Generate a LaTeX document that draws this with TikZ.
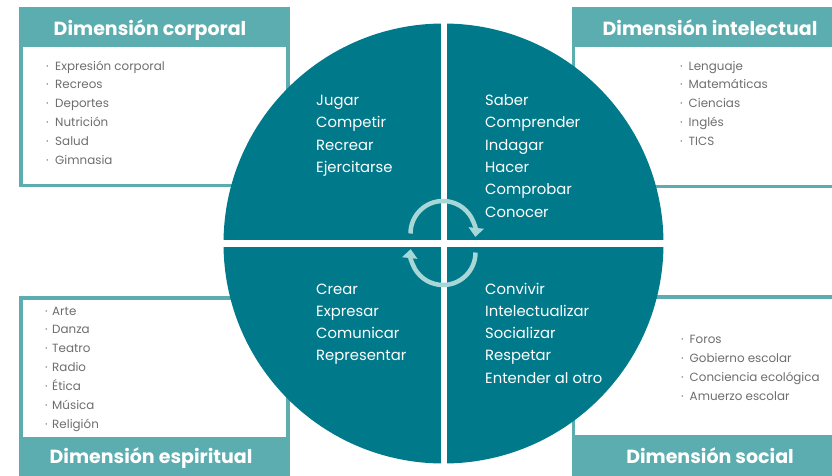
\documentclass[tikz,border=0pt]{standalone}
\usepackage{fontspec}
\setmainfont{Poppins}
\usetikzlibrary{arrows.meta}

\definecolor{darkteal}{HTML}{00798A}
\definecolor{lightteal}{HTML}{5BADB0}
\definecolor{arrowteal}{HTML}{A8D7D8}
\definecolor{itemgray}{HTML}{6E6E6E}

\begin{document}
\begin{tikzpicture}[x=1pt,y=-1pt,
	frame/.style={draw=lightteal,line width=3.5pt,fill=white},
	title/.style={anchor=base,inner sep=0pt,text=white,font=\fontsize{19}{22}\selectfont\bfseries},
	item/.style={anchor=base west,inner sep=0pt,text=itemgray,font=\fontsize{11.9}{14}\selectfont},
	verb/.style={anchor=base west,inner sep=0pt,text=white,font=\fontsize{14.8}{18}\selectfont},
	cycle/.style={arrowteal,line width=4.5pt,-{Triangle[width=15pt,length=9pt]}}]

		\useasboundingbox (0,0) rectangle (832,475);

		% the four boxes
		\draw[frame] (20.8,9) rectangle (288.2,185.5);
		\fill[lightteal] (19,7) rectangle (290,47);
		\draw[frame] (573.5,9) rectangle (840,186.5);
		\fill[lightteal] (571.7,7) rectangle (840,47);
		\draw[frame] (20.8,298) rectangle (288.2,480);
		\fill[lightteal] (19,436.5) rectangle (290,480);
		\draw[frame] (573.5,297) rectangle (840,480);
		\fill[lightteal] (571.7,434.5) rectangle (840,480);

		\node[title] (corporal) at (150,35) {Dimensión corporal};
		\node[title] (intelectual) at (710,35) {Dimensión intelectual};
		\node[title] (espiritual) at (151,463) {Dimensión espiritual};
		\node[title] (social) at (710,463) {Dimensión social};

		% lists
		\foreach \w [count=\i from 0] in {Expresión corporal,Recreos,Deportes,Nutrición,Salud,Gimnasia}
			\node[item] (cor\i) at (46,70+18.8*\i) {·\hspace{6.5pt}\w};
		\foreach \w [count=\i from 0] in {Lenguaje,Matemáticas,Ciencias,Inglés,TICS}
			\node[item] (int\i) at (680,70+18.8*\i) {·\hspace{6pt}\w};
		\foreach \w [count=\i from 0] in {Arte,Danza,Teatro,Radio,Ética,Música,Religión}
			\node[item] (esp\i) at (45,315+18.9*\i) {·\hspace{4.5pt}\w};
		\foreach \w [count=\i from 0] in {Foros,Gobierno escolar,Conciencia ecológica,Amuerzo escolar}
			\node[item] (soc\i) at (681,343.3+18.9*\i) {·\hspace{6pt}\w};

		% circle
		\fill[darkteal] (443.5,243.5) circle (220);
		\fill[white] (440.5,20) rectangle (446.5,467);
		\fill[white] (220,240.3) rectangle (667,246.6);

		\foreach \w [count=\i from 0] in {Jugar,Competir,Recrear,Ejercitarse}
			\node[verb] (tl\i) at (316,105.5+22.3*\i) {\w};
		\foreach \w [count=\i from 0] in {Saber,Comprender,Indagar,Hacer,Comprobar,Conocer}
			\node[verb] (tr\i) at (485,105.5+22.3*\i) {\w};
		\foreach \w [count=\i from 0] in {Crear,Expresar,Comunicar,Representar}
			\node[verb] (bl\i) at (316,294+22.3*\i) {\w};
		\foreach \w [count=\i from 0] in {Convivir,Intelectualizar,Socializar,Respetar,Entender al otro}
			\node[verb] (br\i) at (485,294+22.3*\i) {\w};

		% cycle arrows
		\draw[cycle] (410.5,233.5) arc[start angle=180,end angle=366,radius=32.5];
		\draw[cycle] (475.5,252.5) arc[start angle=0,end angle=186,radius=32.5];

	\end{tikzpicture}
\end{document}
